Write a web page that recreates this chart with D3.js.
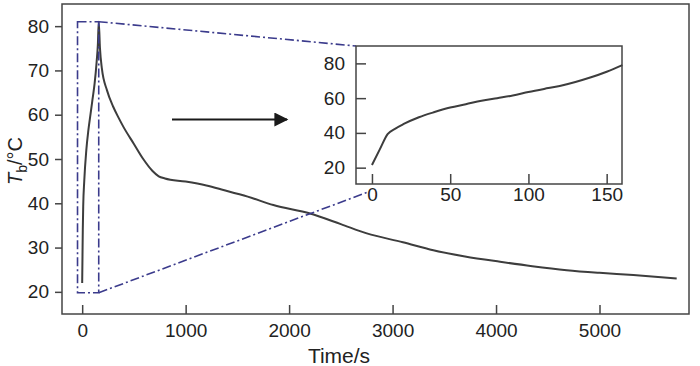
<!DOCTYPE html>
<html>
<head>
<meta charset="utf-8">
<script src="https://cdn.jsdelivr.net/npm/d3@7"></script>
<style>
  body { margin: 0; background: #fff; }
  svg text { font-family: "Liberation Sans", Arial, sans-serif; fill: #222; }
</style>
</head>
<body>
<svg id="chart" width="700" height="366"></svg>
<script>
// 전체 곡선 (Time/s, Tb/°C)
const mainTime = [0, 3, 6, 10, 20, 40, 60, 80, 100, 120, 140, 152, 160, 172, 190, 240, 300, 350, 400, 500, 590, 680, 740, 800, 1000, 1200, 1365, 1600, 1848, 2203, 2500, 2751, 3100, 3394, 3700, 4039, 4350, 4683, 5000, 5327, 5746];
const mainTemp = [22, 28, 34, 39.3, 45, 52, 56.5, 60, 63.5, 67, 72, 76, 81, 75, 70.5, 65.5, 61.8, 59.4, 57.2, 53.4, 50, 47.3, 46.1, 45.6, 44.9, 44, 43, 41.5, 39.6, 37.7, 35.3, 33.2, 31.2, 29.4, 28, 26.8, 25.8, 24.9, 24.3, 23.8, 23.0];

// 확대 그림 (0~160 s)
const insetTime = [0, 5, 10, 15, 20, 30, 40, 50, 60, 70, 80, 90, 100, 110, 120, 130, 140, 150, 160];
const insetTemp = [21.5, 30.5, 39.3, 42.5, 45, 49, 52, 54.6, 56.5, 58.5, 60, 61.5, 63.5, 65.3, 67, 69.3, 72, 75.2, 79];

const mainXTicks = [0, 1000, 2000, 3000, 4000, 5000];
const mainYTicks = [20, 30, 40, 50, 60, 70, 80];
const insetXTicks = [0, 50, 100, 150];
const insetYTicks = [20, 40, 60, 80];

// 확대 영역 표시 박스
const boxTime = [-45, 160];
const boxTemp = [19.8, 81];

const svg = d3.select("#chart");
const lineColor = "#3d3d3d";
const frameColor = "#444";
const dashColor = "#3b3b8c";
const fmt = d3.format("d");

// 메인 축
const mx = d3.scaleLinear().domain([-195, 5865]).range([62, 689]);
const my = d3.scaleLinear().domain([15, 85]).range([314, 4]);

// 인셋 축
const ix = d3.scaleLinear().domain([-10.2, 159.8]).range([356, 622]);
const iy = d3.scaleLinear().domain([10.6, 90]).range([184, 46]);

function styleAxis(g) {
    g.select(".domain").remove();
    g.selectAll(".tick line").attr("stroke", frameColor).attr("stroke-width", 1.5);
    g.selectAll(".tick text").attr("fill", "#222").style("font-size", "19px")
        .style("font-family", "'Liberation Sans', Arial, sans-serif");
}

// 메인 프레임
svg.append("rect")
    .attr("x", 62).attr("y", 4).attr("width", 627).attr("height", 310)
    .attr("fill", "none").attr("stroke", frameColor).attr("stroke-width", 1.5);

svg.append("g")
    .attr("transform", "translate(0,314)")
    .call(d3.axisBottom(mx).tickValues(mainXTicks).tickFormat(fmt)
        .tickSizeInner(-9).tickSizeOuter(0).tickPadding(10))
    .call(styleAxis);

svg.append("g")
    .attr("transform", "translate(62,0)")
    .call(d3.axisLeft(my).tickValues(mainYTicks).tickFormat(fmt)
        .tickSizeInner(7).tickSizeOuter(0).tickPadding(6))
    .call(styleAxis);

// 메인 곡선
const mainLine = d3.line().x(d => mx(d[0])).y(d => my(d[1])).curve(d3.curveMonotoneX);
svg.append("path")
    .datum(d3.zip(mainTime, mainTemp))
    .attr("d", mainLine)
    .attr("fill", "none").attr("stroke", lineColor).attr("stroke-width", 2)
    .attr("stroke-linejoin", "round");

// 점선 박스와 연결선
const dashPattern = "9,3,2,3";
svg.append("rect")
    .attr("x", mx(boxTime[0])).attr("y", my(boxTemp[1]))
    .attr("width", mx(boxTime[1]) - mx(boxTime[0]))
    .attr("height", my(boxTemp[0]) - my(boxTemp[1]))
    .attr("fill", "none").attr("stroke", dashColor).attr("stroke-width", 1.6)
    .attr("stroke-dasharray", dashPattern);

svg.append("line")
    .attr("x1", mx(boxTime[1])).attr("y1", my(boxTemp[1]))
    .attr("x2", ix.range()[0]).attr("y2", iy.range()[1])
    .attr("stroke", dashColor).attr("stroke-width", 1.6).attr("stroke-dasharray", dashPattern);
svg.append("line")
    .attr("x1", mx(boxTime[1])).attr("y1", my(boxTemp[0]))
    .attr("x2", ix.range()[0] + 12).attr("y2", iy.range()[0] + 8)
    .attr("stroke", dashColor).attr("stroke-width", 1.6).attr("stroke-dasharray", dashPattern);

// 화살표
svg.append("defs").append("marker")
    .attr("id", "arrow").attr("viewBox", "0 0 10 10")
    .attr("refX", 9).attr("refY", 5)
    .attr("markerWidth", 8).attr("markerHeight", 7)
    .attr("markerUnits", "strokeWidth")
    .attr("orient", "auto")
    .append("path").attr("d", "M0,0 L10,5 L0,10 Z").attr("fill", "#1a1a1a");

svg.append("line")
    .attr("x1", 172).attr("y1", 119.5).attr("x2", 287).attr("y2", 119.5)
    .attr("stroke", "#1a1a1a").attr("stroke-width", 2)
    .attr("marker-end", "url(#arrow)");

// 인셋
svg.append("rect")
    .attr("x", 356).attr("y", 46).attr("width", 266).attr("height", 138)
    .attr("fill", "#fff").attr("stroke", frameColor).attr("stroke-width", 1.5);

svg.append("g")
    .attr("transform", "translate(0,184)")
    .call(d3.axisBottom(ix).tickValues(insetXTicks).tickFormat(fmt)
        .tickSizeInner(-10).tickSizeOuter(0).tickPadding(4))
    .call(styleAxis);

svg.append("g")
    .attr("transform", "translate(356,0)")
    .call(d3.axisLeft(iy).tickValues(insetYTicks).tickFormat(fmt)
        .tickSizeInner(-10).tickSizeOuter(0).tickPadding(11))
    .call(styleAxis);

const insetLine = d3.line().x(d => ix(d[0])).y(d => iy(d[1])).curve(d3.curveMonotoneX);
svg.append("path")
    .datum(d3.zip(insetTime, insetTemp))
    .attr("d", insetLine)
    .attr("fill", "none").attr("stroke", lineColor).attr("stroke-width", 2);

// 축 제목
svg.append("text")
    .attr("x", 339).attr("y", 363)
    .attr("text-anchor", "middle")
    .style("font-size", "21px")
    .text("Time/s");

const ylab = svg.append("text")
    .attr("transform", "translate(22,161) rotate(-90)")
    .attr("text-anchor", "middle")
    .style("font-size", "20px");
ylab.append("tspan").style("font-style", "italic").text("T");
ylab.append("tspan").attr("dy", 5).style("font-size", "14px").text("b");
ylab.append("tspan").attr("dy", -5).text("/°C");
</script>
</body>
</html>
